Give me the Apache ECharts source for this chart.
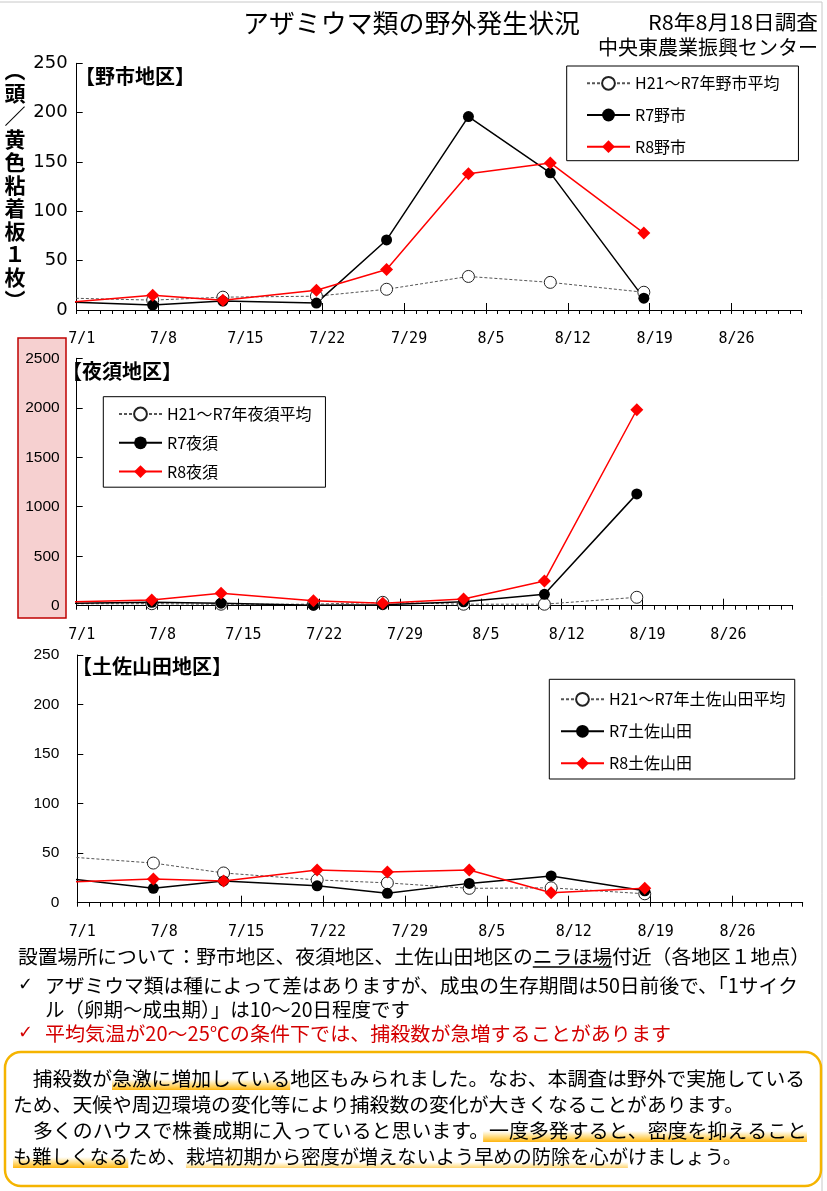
<!DOCTYPE html>
<html><head><meta charset="utf-8">
<script src="https://cdn.jsdelivr.net/npm/echarts@6/dist/echarts.min.js"></script>
<style>html,body{margin:0;padding:0;background:#fff}#c{width:827px;height:1191px}</style>
</head><body><div id="c"></div>
<script>
// ---- data ----
const tickLabels = ['7/1','7/8','7/15','7/22','7/29','8/5','8/12','8/19','8/26'];
const surveyDates = ['6/30','7/7','7/13','7/21','7/27','8/3','8/10','8/18'];
const noichiAvg = [12, 10, 13, 14, 21, 34, 28, 18];
const noichiR7  = [8, 5, 9, 7, 71, 196, 139, 12];
const noichiR8  = [8, 15, 10, 20, 41, 138, 149, 78];
const yasuAvg   = [20, 20, 15, 15, 34, 15, 15, 85];
const yasuR7    = [25, 35, 25, 5, 10, 40, 115, 1130];
const yasuR8    = [40, 57, 125, 50, 24, 67, 250, 1980];
const tosaAvg   = [46, 40, 30, 23, 20, 14.5, 15, 9];
const tosaR7    = [24, 14.5, 22, 17, 9.5, 19.5, 27, 12];
const tosaR8    = [21, 24, 22, 33, 31, 33, 10, 14.5];
const areaNames = ['野市', '夜須', '土佐山田'];

// ---- helpers ----
function dayOf(s){ const [m,d] = s.split('/').map(Number); const base = m===6 ? -30 : (m===7 ? 0 : 31); return base + d - 1 + 0.5; }
const CJK = '"Noto Sans CJK JP"';
const mctx = document.createElement('canvas').getContext('2d');
function tw(s, size, weight){ mctx.font = (weight||'normal') + ' ' + size + 'px ' + CJK; return mctx.measureText(s).width; }

function mkSeries(name, vals, kind, idx){
  const data = surveyDates.map((d,i)=>[dayOf(d), vals[i]]);
  const s = {name, type:'line', xAxisIndex:idx, yAxisIndex:idx, data, clip:true, z: 2};
  if(kind==='avg'){
    Object.assign(s,{symbol:'circle', symbolSize:12, itemStyle:{color:'#fff', borderColor:'#222', borderWidth:1},
      lineStyle:{color:'#555', width:1, type:[3,2]}});
  } else if(kind==='r7'){
    Object.assign(s,{symbol:'circle', symbolSize:11, itemStyle:{color:'#000'}, lineStyle:{color:'#000', width:1.5}});
  } else {
    Object.assign(s,{symbol:'diamond', symbolSize:13, itemStyle:{color:'#ff0000'}, lineStyle:{color:'#ff0000', width:1.5}});
  }
  return s;
}
const seriesSets = [[noichiAvg,noichiR7,noichiR8],[yasuAvg,yasuR7,yasuR8],[tosaAvg,tosaR7,tosaR8]];
const series = [];
const legendNames = [];
seriesSets.forEach((set,i)=>{
  const a = areaNames[i];
  const names = ['H21～R7年'+a+'平均', 'R7'+a, 'R8'+a];
  legendNames.push(names);
  series.push(mkSeries(names[0], set[0], 'avg', i));
  series.push(mkSeries(names[1], set[1], 'r7', i));
  series.push(mkSeries(names[2], set[2], 'r8', i));
});

const grids = [
  {left:76.7, top:63.3, width:725, height:246.7},
  {left:76.7, top:358.3, width:716, height:247.4},
  {left:77.3, top:655, width:725.4, height:247.7}
];
const yMax = [250, 2500, 250], yInt = [50, 500, 50];
const yLab = [
  {fontSize:18, fontFamily:'DejaVu Sans', margin:9},
  {fontSize:15.5, fontFamily:'Liberation Sans', margin:17},
  {fontSize:15.5, fontFamily:'Liberation Sans', margin:18}
];

const xAxes = [], yAxes = [];
grids.forEach((g,i)=>{
  xAxes.push({gridIndex:i, type:'value', min:0, max:62, interval:1, position:'bottom',
    axisLine:{onZero:false, lineStyle:{color:'#000', width:1}},
    axisTick:{show:true, length:4, lineStyle:{color:'#000'}},
    axisLabel:{show:false}, splitLine:{show:false}});
});
grids.forEach((g,i)=>{
  xAxes.push({gridIndex:i, type:'value', min:0, max:62, interval:7, position:'bottom',
    axisLine:{show:false, onZero:false},
    axisTick:{show:true, inside:true, length:7, lineStyle:{color:'#000'}},
    axisLabel:{show:true, margin:22, showMaxLabel:false, color:'#000', fontSize:15, fontFamily:'DejaVu Sans Mono',
      padding:[0,0,0,10],
      formatter:(v)=>{ const k=v/7; return (Number.isInteger(k) && k<tickLabels.length) ? tickLabels[k] : ''; }},
    splitLine:{show:false}});
  yAxes.push({gridIndex:i, type:'value', min:0, max:yMax[i], interval:yInt[i],
    axisLine:{show:true, onZero:false, lineStyle:{color:'#000', width:1}},
    axisTick:{show:true, inside:true, length:6, lineStyle:{color:'#000'}},
    axisLabel:Object.assign({color:'#000', formatter:(v)=>String(v)}, yLab[i]), splitLine:{show:false}});
});

const legendCfg = [
  {left:566.7, top:66, itemGap:15.7, padding:[9.3,19,6,19.3]},
  {left:103.3, top:396.7, itemGap:12.8, padding:[9.3,14,7.6,14.7]},
  {left:549.3, top:679.3, itemGap:16, padding:[12,9.3,7.7,10.7]}
];
const legends = legendCfg.map((c,i)=>Object.assign({
  data:legendNames[i], orient:'vertical', itemWidth:43, itemHeight:16, selectedMode:false,
  borderColor:'#000', borderWidth:1, backgroundColor:'#fff',
  textStyle:{fontSize:16, fontFamily:CJK, color:'#000', lineHeight:16}
}, c));

// ---- graphic texts ----
const G = [];
function txt(str, x0, x1, yc, size, color, weight, z){
  const w = tw(str, size, weight);
  const s = x1 ? (x1-x0)/w : 1;
  G.push({type:'text', x:x0, y:yc, scaleX:s, z:z||5,
    style:{text:str, x:0, y:0, fontSize:size, fontFamily:CJK, fontWeight:weight||'normal', fill:color||'#000', verticalAlign:'middle', align:'left'}});
  return s;
}
function hl(str, sub, x0, s, yc, size, strong, shiftL){
  const i = str.indexOf(sub);
  const xs = x0 + tw(str.slice(0,i), size)*s - (shiftL||0);
  const w = tw(sub, size)*s + (shiftL||0);
  const a = strong ? 0.95 : 0.55;
  G.push({type:'rect', z:3, shape:{x:xs, y:yc+(strong?1:6), width:w, height:strong?11:6},
    style:{fill:{type:'linear', x:0, y:0, x2:0, y2:1, colorStops:[{offset:0,color:'rgba(255,192,0,0)'},{offset:1,color:'rgba(255,176,0,'+a+')'}]}}});
}

// page border
G.push({type:'line', z:1, shape:{x1:0,y1:2,x2:822,y2:2}, style:{stroke:'#c8c8c8', lineWidth:1}});
G.push({type:'line', z:1, shape:{x1:822,y1:2,x2:822,y2:1191}, style:{stroke:'#c8c8c8', lineWidth:1}});
// pink highlight behind yasu axis labels
G.push({type:'rect', z:-1, shape:{x:18, y:338, width:48, height:280},
  style:{fill:'#f6d0d0', stroke:'#c00000', lineWidth:1.5}});
// vertical y-axis title
G.push({type:'text', x:15, y:58.5, z:5, style:{text:['︵','頭','／','黄','色','粘','着','板','１','枚','︶'].join('\n'),
  fontSize:21, fontWeight:'bold', fontFamily:CJK, fill:'#000', align:'center', verticalAlign:'top', lineHeight:23}});
// chart titles
[['【野市地区】',75,76.7],['【夜須地区】',62,371.7],['【土佐山田地区】',72,666.7]].forEach(t=>{
  G.push({type:'text', x:t[1], y:t[2], z:5, style:{text:t[0], fontSize:20, fontWeight:'bold', fontFamily:CJK, fill:'#000', verticalAlign:'middle'}});
});
// header
txt('アザミウマ類の野外発生状況', 243, 580, 23, 26, '#000');
txt('R8年8月18日調査', 648, 818, 22, 20, '#000');
txt('中央東農業振興センター', 598, 818, 47, 20, '#000');

// notes
const n1 = '設置場所について：野市地区、夜須地区、土佐山田地区のニラほ場付近（各地区１地点）';
const s1 = txt(n1, 18, 810, 956, 19.8, '#000');
{ const i = n1.indexOf('ニラほ場'); const xs = 18 + tw(n1.slice(0,i),19.8)*s1; const w = tw('ニラほ場',19.8)*s1;
  G.push({type:'line', z:5, shape:{x1:xs, y1:967, x2:xs+w, y2:967}, style:{stroke:'#000', lineWidth:1.5}}); }
G.push({type:'text', x:18, y:985, z:5, style:{text:'✓', fontSize:18, fontFamily:'DejaVu Sans', fill:'#000', verticalAlign:'middle'}});
txt('アザミウマ類は種によって差はありますが、成虫の生存期間は50日前後で、「1サイク', 45, 798, 985, 19.8, '#000');
txt('ル（卵期～成虫期）」は10～20日程度です', 45, 410, 1009, 19.8, '#000');
G.push({type:'text', x:18, y:1033, z:5, style:{text:'✓', fontSize:18, fontFamily:'DejaVu Sans', fill:'#d40000', verticalAlign:'middle'}});
txt('平均気温が20～25℃の条件下では、捕殺数が急増することがあります', 45, 671, 1033, 19.8, '#d40000');

// message box
G.push({type:'rect', z:1, shape:{x:5, y:1052, width:816, height:134, r:16}, style:{fill:'#fff', stroke:'#f5b400', lineWidth:2.5}});
const B = [
  ['　捕殺数が急激に増加している地区もみられました。なお、本調査は野外で実施している', 805, 1078],
  ['ため、天候や周辺環境の変化等により捕殺数の変化が大きくなることがあります。', 744, 1104],
  ['　多くのハウスで株養成期に入っていると思います。一度多発すると、密度を抑えること', 807, 1130],
  ['も難しくなるため、栽培初期から密度が増えないよう早めの防除を心がけましょう。', 742, 1156]
];
const bs = B.map(b=>txt(b[0], 13, b[1], b[2], 19.8, '#000'));
hl(B[0][0], '急激に増加している', 13, bs[0], B[0][2], 19.8, true);
hl(B[2][0], '一度多発すると、密度を抑えること', 13, bs[2], B[2][2], 19.8, true, 6);
hl(B[3][0], 'も難しくなる', 13, bs[3], B[3][2], 19.8, true);
hl(B[3][0], '栽培初期から密度が増えないよう早めの防除を心が', 13, bs[3], B[3][2], 19.8, false);

const chart = echarts.init(document.getElementById('c'), null, {renderer:'canvas'});
chart.setOption({
  animation:false,
  backgroundColor:'#fff',
  textStyle:{fontFamily:CJK},
  grid:grids,
  xAxis:xAxes,
  yAxis:yAxes,
  legend:legends,
  series:series,
  graphic:{elements:G}
});
</script></body></html>
